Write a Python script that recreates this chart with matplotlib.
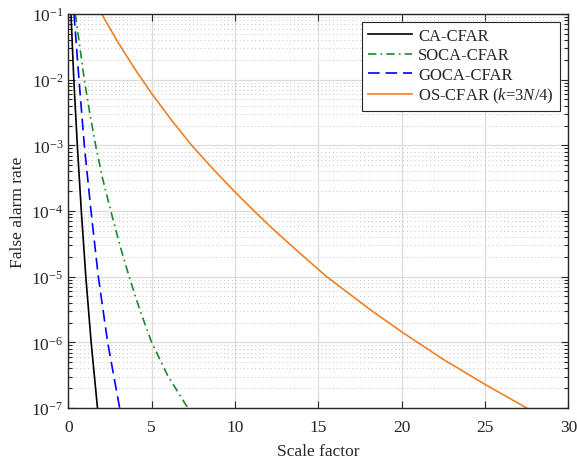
import matplotlib
matplotlib.use("Agg")
import matplotlib.pyplot as plt
from matplotlib.ticker import LogLocator, NullFormatter, FixedLocator

plt.rcParams['font.family'] = ['Liberation Serif', 'DejaVu Serif']
plt.rcParams['mathtext.fontset'] = 'custom'
plt.rcParams['mathtext.rm'] = 'Liberation Serif'
plt.rcParams['mathtext.it'] = 'Liberation Serif:italic'

# valores
ca_x = [0.16, 0.33, 0.54, 0.78, 1.05, 1.37, 1.75]
ca_y = [1e-1, 1e-2, 1e-3, 1e-4, 1e-5, 1e-6, 1e-7]

soca_x = [0.42, 0.96, 1.28, 1.64, 2.05, 2.55, 3.07, 3.65, 4.28, 5.0, 5.95, 7.17]
soca_y = [1e-1, 1e-2, 10**-2.5, 1e-3, 10**-3.5, 1e-4, 10**-4.5, 1e-5, 10**-5.5, 1e-6, 10**-6.5, 1e-7]

goca_x = [0.34, 0.64, 0.96, 1.36, 1.8, 2.36, 3.08]
goca_y = [1e-1, 1e-2, 1e-3, 1e-4, 1e-5, 1e-6, 1e-7]

os_x = [2.0, 3.0, 4.0, 5.0, 6.2, 7.4, 8.7, 10.0, 11.15, 12.3, 13.9, 15.5, 18.1, 20.0, 22.5, 25.0, 27.5]
os_y = [1e-1, 10**-1.44, 10**-1.84, 10**-2.21, 10**-2.62, 1e-3, 10**-3.365, 10**-3.71,
        1e-4, 10**-4.28, 10**-4.645, 1e-5, 10**-5.5, 10**-5.84, 10**-6.26, 10**-6.64, 1e-7]

cinza = '#262626'

fig = plt.figure(figsize=(5.77, 4.64), dpi=100)
ax = fig.add_axes([0.1184, 0.1185, 0.8666, 0.8492])

ax.plot(ca_x, ca_y, color='black', lw=1.2, label='CA-CFAR')
ax.plot(soca_x, soca_y, color='#1a8a2e', lw=1.2, dashes=(5, 2.5, 1, 2.5), label='SOCA-CFAR')
ax.plot(goca_x, goca_y, color='#0000ff', lw=1.2, dashes=(7, 3.5), label='GOCA-CFAR')
ax.plot(os_x, os_y, color='#f08024', lw=1.2, label='OS-CFAR ($k$=3$N$/4)')

ax.set_yscale('log')
ax.set_xlim(0, 30)
ax.set_ylim(1e-7, 1e-1)
ax.set_xticks([0, 5, 10, 15, 20, 25, 30])
ax.yaxis.set_major_locator(FixedLocator([1e-7, 1e-6, 1e-5, 1e-4, 1e-3, 1e-2, 1e-1]))
ax.set_yticklabels(['$10^{-7}$', '$10^{-6}$', '$10^{-5}$', '$10^{-4}$',
                    '$10^{-3}$', '$10^{-2}$', '$10^{-1}$'])
ax.yaxis.set_minor_locator(LogLocator(base=10, subs=range(2, 10), numticks=20))
ax.yaxis.set_minor_formatter(NullFormatter())

ax.grid(True, which='major', color='#dcdcdc', lw=0.9, ls='-')
ax.grid(True, which='minor', axis='y', color='#c4c4c4', lw=0.7, ls=(0, (1, 3)))
ax.set_axisbelow(True)

ax.tick_params(which='both', direction='in', top=True, right=True,
               colors=cinza, labelsize=12.5, width=0.8)
ax.tick_params(which='major', length=5)
ax.tick_params(which='minor', length=3)
ax.tick_params(axis='x', pad=8)
for s in ax.spines.values():
    s.set_color(cinza)
    s.set_linewidth(1.0)

ax.set_xlabel('Scale factor', fontsize=12.5, color=cinza, labelpad=6)
ax.set_ylabel('False alarm rate', fontsize=12.5, color=cinza, labelpad=4)

leg = ax.legend(loc='upper right', fontsize=12, fancybox=False, framealpha=1,
                edgecolor=cinza, borderaxespad=0.5, handlelength=2.6,
                handletextpad=0.4, labelspacing=0.2, borderpad=0.35)
leg.get_frame().set_linewidth(0.8)
for t in leg.get_texts():
    t.set_color(cinza)

fig.savefig('out.png', dpi=100)
